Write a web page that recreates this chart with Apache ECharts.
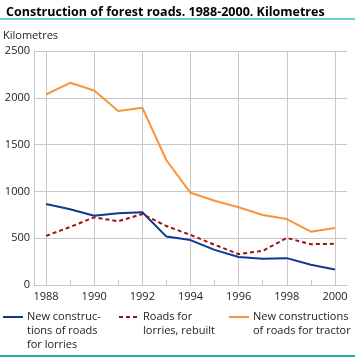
<!DOCTYPE html>
<html><head><meta charset="utf-8">
<script src="https://cdn.jsdelivr.net/npm/echarts@6/dist/echarts.min.js"></script>
<style>html,body{margin:0;padding:0;background:#fff}#c{width:355px;height:357px}</style>
</head><body><div id="c"></div>
<script>
const years = ['1988','1989','1990','1991','1992','1993','1994','1995','1996','1997','1998','1999','2000'];
const lorriesNew = [865, 810, 740, 766, 777, 517, 480, 375, 300, 280, 287, 216, 166];
const lorriesRebuilt = [525, 620, 723, 681, 758, 630, 535, 430, 330, 365, 503, 436, 440];
const tractorNew = [2035, 2160, 2078, 1858, 1894, 1333, 985, 900, 830, 748, 705, 570, 610];
const yTicks = [0, 500, 1000, 1500, 2000, 2500];
const names = ['New construc-\ntions of roads\nfor lorries', 'Roads for\nlorries, rebuilt', 'New constructions\nof roads for tractor'];

const FONT = 'Open Sans';
const grid = '#c8c8c8';
const chart = echarts.init(document.getElementById('c'));
const legLeft = [2, 118, 228];
function leg(i){
  return {
    data: [names[i]], left: legLeft[i], top: 310, itemWidth: 20, itemHeight: 14, itemGap: 0,
    padding: 0, selectedMode: false, formatter: () => '',
    itemStyle: {opacity: 0}
  };
}
function legText(i){
  return {type: 'text', left: legLeft[i] + 25, top: 310,
    style: {text: names[i], font: '11px "' + FONT + '"', fill: '#222', lineHeight: 14}};
}
chart.setOption({
  animation: false,
  textStyle: {fontFamily: FONT},
  title: {text: 'Construction of forest roads. 1988-2000. Kilometres', left: 1, top: 1,
    textStyle: {fontFamily: FONT, fontSize: 12.5, fontWeight: 'bold', color: '#000'}},
  graphic: [
    {type: 'rect', shape: {x: 0, y: 18, width: 355, height: 2}, style: {fill: '#6ccfcf'}},
    {type: 'rect', shape: {x: 0, y: 355, width: 355, height: 2}, style: {fill: '#2aa6a6'}},
    {type: 'text', left: 3, top: 30, style: {text: 'Kilometres', font: '11px "' + FONT + '"', fill: '#222'}},
    legText(0), legText(1), legText(2)
  ],
  grid: {left: 34, right: 8, top: 51, bottom: 72},
  legend: [leg(0), leg(1), leg(2)],
  xAxis: {
    type: 'category', data: years, boundaryGap: true,
    axisLine: {show: true, lineStyle: {color: grid, width: 1}},
    axisTick: {show: true, alignWithLabel: true, interval: 0, inside: true, length: 5, lineStyle: {color: grid}},
    axisLabel: {interval: 1, fontFamily: FONT, fontSize: 11, color: '#222', margin: 6},
    splitLine: {show: true, interval: 1, alignWithLabel: true, lineStyle: {color: grid, width: 1}}
  },
  yAxis: {
    type: 'value', min: yTicks[0], max: yTicks[yTicks.length-1], interval: 500,
    axisLine: {show: true, lineStyle: {color: grid}},
    axisTick: {show: false},
    axisLabel: {fontFamily: FONT, fontSize: 11, color: '#222', margin: 4, formatter: v => String(v)},
    splitLine: {show: true, lineStyle: {color: grid, width: 1}}
  },
  series: [
    {name: names[0], type: 'line', data: lorriesNew, symbol: 'none', lineStyle: {color: '#0d3a94', width: 2}, itemStyle: {color: '#0d3a94'}},
    {name: names[1], type: 'line', data: lorriesRebuilt, symbol: 'none', lineStyle: {color: '#9b1414', width: 2, type: [4, 3]}, itemStyle: {color: '#9b1414'}},
    {name: names[2], type: 'line', data: tractorNew, symbol: 'none', lineStyle: {color: '#f7953a', width: 2}, itemStyle: {color: '#f7953a'}}
  ]
});
</script></body></html>
